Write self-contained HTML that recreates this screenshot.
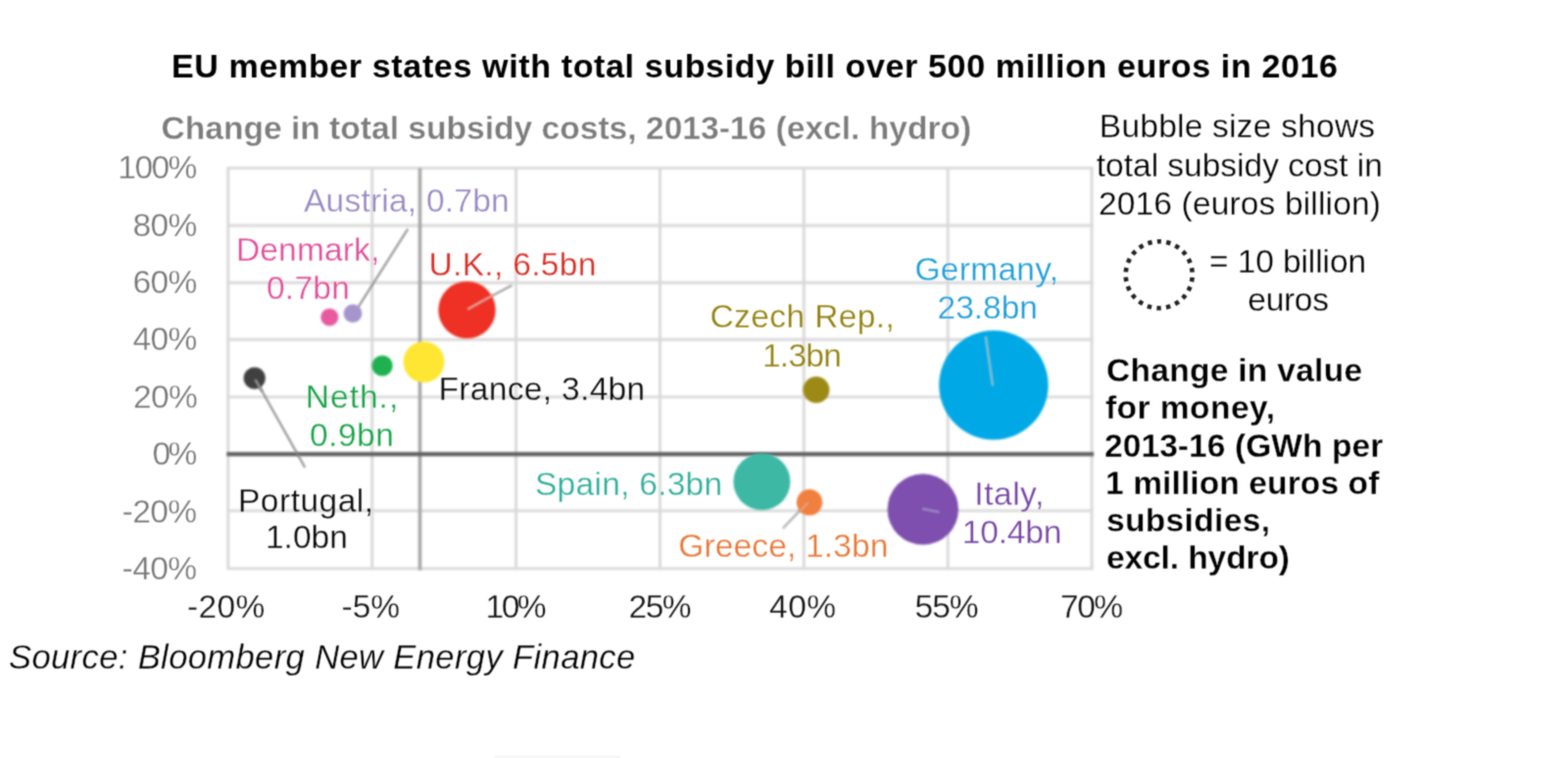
<!DOCTYPE html>
<html lang="en">
<head>
<meta charset="utf-8">
<title>EU member states with total subsidy bill over 500 million euros in 2016</title>
<style>
html,body{margin:0;padding:0;background:#fff;}
body{width:1600px;height:773px;overflow:hidden;font-family:"Liberation Sans",sans-serif;}
svg{display:block;}
</style>
</head>
<body>
<svg width="1600" height="773" viewBox="0 0 1600 773" font-family="'Liberation Sans', sans-serif" font-size="33.5">
<rect width="1600" height="773" fill="#fff"/>
<defs><filter id="soft" x="0" y="0" width="1600" height="773" filterUnits="userSpaceOnUse" color-interpolation-filters="sRGB"><feGaussianBlur stdDeviation="0.8"/></filter></defs>
<defs><filter id="softt" x="0" y="0" width="1600" height="773" filterUnits="userSpaceOnUse" color-interpolation-filters="sRGB"><feConvolveMatrix order="3" kernelMatrix="0.0400 0.1200 0.0400 0.1200 0.3600 0.1200 0.0400 0.1200 0.0400" divisor="1" edgeMode="none" preserveAlpha="false"/></filter></defs>
<g filter="url(#soft)">
<g id="grid" stroke="#d9d9d9" stroke-width="2.9" fill="none">
<line x1="231.4" y1="171.4" x2="1115.5" y2="171.4"/>
<line x1="231.4" y1="230.0" x2="1115.5" y2="230.0"/>
<line x1="231.4" y1="288.3" x2="1115.5" y2="288.3"/>
<line x1="231.4" y1="346.3" x2="1115.5" y2="346.3"/>
<line x1="231.4" y1="404.9" x2="1115.5" y2="404.9"/>
<line x1="231.4" y1="520.9" x2="1115.5" y2="520.9"/>
<line x1="231.4" y1="579.9" x2="1115.5" y2="579.9"/>
<line x1="232.8" y1="171.4" x2="232.8" y2="579.9"/>
<line x1="379.7" y1="171.4" x2="379.7" y2="579.9"/>
<line x1="526.6" y1="171.4" x2="526.6" y2="579.9"/>
<line x1="673.4" y1="171.4" x2="673.4" y2="579.9"/>
<line x1="820.3" y1="171.4" x2="820.3" y2="579.9"/>
<line x1="967.2" y1="171.4" x2="967.2" y2="579.9"/>
<line x1="1114.1" y1="171.4" x2="1114.1" y2="579.9"/>
</g>
<line x1="428.5" y1="171.4" x2="428.5" y2="581.4" stroke="#a6a6a6" stroke-width="3.5"/>
<line x1="231.3" y1="463.1" x2="1116.1" y2="463.1" stroke="#626262" stroke-width="4.4"/>
</g>
<g filter="url(#softt)">
<text x="175.0" y="78.5" fill="#000" textLength="1190.0" lengthAdjust="spacing" font-size="34" font-weight="bold">EU member states with total subsidy bill over 500 million euros in 2016</text>
<text x="164.5" y="142.4" fill="#7c7c7c" textLength="826.7" lengthAdjust="spacing" font-weight="bold" stroke="#fff" stroke-width="0.3">Change in total subsidy costs, 2013-16 (excl. hydro)</text>
<g id="ylab">
<text x="120.3" y="182.3" fill="#767676" textLength="81.1" lengthAdjust="spacing" stroke="#fff" stroke-width="0.3">100%</text>
<text x="135.5" y="240.7" fill="#767676" textLength="65.7" lengthAdjust="spacing" stroke="#fff" stroke-width="0.3">80%</text>
<text x="135.5" y="299.0" fill="#767676" textLength="65.7" lengthAdjust="spacing" stroke="#fff" stroke-width="0.3">60%</text>
<text x="135.5" y="357.4" fill="#767676" textLength="65.7" lengthAdjust="spacing" stroke="#fff" stroke-width="0.3">40%</text>
<text x="136.0" y="415.7" fill="#767676" textLength="65.7" lengthAdjust="spacing" stroke="#fff" stroke-width="0.3">20%</text>
<text x="155.6" y="474.1" fill="#767676" textLength="45.6" lengthAdjust="spacing" stroke="#fff" stroke-width="0.3">0%</text>
<text x="124.6" y="532.5" fill="#767676" textLength="76.4" lengthAdjust="spacing" stroke="#fff" stroke-width="0.3">-20%</text>
<text x="124.6" y="590.8" fill="#767676" textLength="76.4" lengthAdjust="spacing" stroke="#fff" stroke-width="0.3">-40%</text>
</g>
<g id="xlab">
<text x="191.0" y="629.9" fill="#111" textLength="79.2" lengthAdjust="spacing" stroke="#fff" stroke-width="0.3">-20%</text>
<text x="348.5" y="629.9" fill="#111" textLength="59.6" lengthAdjust="spacing" stroke="#fff" stroke-width="0.3">-5%</text>
<text x="495.5" y="629.9" fill="#111" textLength="62.1" lengthAdjust="spacing" stroke="#fff" stroke-width="0.3">10%</text>
<text x="641.5" y="629.9" fill="#111" textLength="64.1" lengthAdjust="spacing" stroke="#fff" stroke-width="0.3">25%</text>
<text x="785.0" y="629.9" fill="#111" textLength="68.1" lengthAdjust="spacing" stroke="#fff" stroke-width="0.3">40%</text>
<text x="933.5" y="629.9" fill="#111" textLength="65.1" lengthAdjust="spacing" stroke="#fff" stroke-width="0.3">55%</text>
<text x="1082.0" y="629.9" fill="#111" textLength="64.1" lengthAdjust="spacing" stroke="#fff" stroke-width="0.3">70%</text>
</g>
</g>
<g id="leaders" stroke-width="1.9" fill="none" filter="url(#soft)">
<line x1="416.2" y1="233.5" x2="365" y2="314" stroke="#858585"/>
<line x1="311.2" y1="476.8" x2="260" y2="385.8" stroke="#858585"/>
<line x1="798.8" y1="538.8" x2="824" y2="512.5" stroke="#a2a2a2"/>
<line x1="522.5" y1="290.8" x2="476.5" y2="315.5" stroke="#959595"/>
</g>
<g id="bubbles" filter="url(#soft)">
<circle cx="336.3" cy="323.4" r="9" fill="#e85aa0"/>
<circle cx="360" cy="319.7" r="9.4" fill="#a694cc"/>
<circle cx="476.5" cy="316.1" r="29.2" fill="#ee3124"/>
<circle cx="390.1" cy="373" r="10.6" fill="#1fb14f"/>
<circle cx="432.5" cy="369.1" r="20.9" fill="#ffe633"/>
<circle cx="259.7" cy="385.6" r="11.1" fill="#404040"/>
<circle cx="832.9" cy="397.5" r="13.5" fill="#9c8a14"/>
<circle cx="1013.9" cy="392.7" r="55.7" fill="#00a9e5"/>
<circle cx="777.4" cy="491.2" r="29" fill="#3cb8a4"/>
<circle cx="826" cy="512.3" r="13.2" fill="#f08040"/>
<circle cx="941.8" cy="519.4" r="36.2" fill="#7e4fae"/>
</g>
<g id="leaders2" stroke-width="2.4" fill="none" filter="url(#soft)">
<line x1="503" y1="301" x2="477" y2="315.5" stroke="#e6aaa2"/>
<line x1="1005.8" y1="343" x2="1013" y2="393.5" stroke="#8fc0d6"/>
<line x1="941" y1="518.8" x2="958.5" y2="522.3" stroke="#9f88c4"/>
<line x1="260.5" y1="387" x2="267.5" y2="399.5" stroke="#9a9a9a"/>
<line x1="824.5" y1="512.5" x2="816" y2="521.5" stroke="#e2a07c"/>
</g>
<g filter="url(#softt)">
<g id="dlabels">
<text x="310.0" y="216.4" fill="#9888c4" textLength="209.7" lengthAdjust="spacing" stroke="#fff" stroke-width="0.3">Austria, 0.7bn</text>
<text x="241.0" y="265.9" fill="#e34d98" textLength="146.2" lengthAdjust="spacing" stroke="#fff" stroke-width="0.3">Denmark,</text>
<text x="272.0" y="304.9" fill="#e34d98" textLength="84.8" lengthAdjust="spacing" stroke="#fff" stroke-width="0.3">0.7bn</text>
<text x="437.5" y="280.7" fill="#d82b22" textLength="170.8" lengthAdjust="spacing" stroke="#fff" stroke-width="0.3">U.K., 6.5bn</text>
<text x="311.8" y="415.9" fill="#17a345" textLength="94.4" lengthAdjust="spacing" stroke="#fff" stroke-width="0.3">Neth.,</text>
<text x="316.0" y="455.2" fill="#17a345" textLength="85.8" lengthAdjust="spacing" stroke="#fff" stroke-width="0.3">0.9bn</text>
<text x="447.5" y="408.4" fill="#0a0a0a" textLength="210.7" lengthAdjust="spacing" stroke="#fff" stroke-width="0.3">France, 3.4bn</text>
<text x="243.0" y="521.6" fill="#0a0a0a" textLength="138.1" lengthAdjust="spacing" stroke="#fff" stroke-width="0.3">Portugal,</text>
<text x="271.0" y="559.2" fill="#0a0a0a" textLength="83.8" lengthAdjust="spacing" stroke="#fff" stroke-width="0.3">1.0bn</text>
<text x="724.5" y="334.2" fill="#92800d" textLength="188.3" lengthAdjust="spacing" stroke="#fff" stroke-width="0.3">Czech Rep.,</text>
<text x="778.0" y="373.9" fill="#92800d" textLength="80.8" lengthAdjust="spacing" stroke="#fff" stroke-width="0.3">1.3bn</text>
<text x="933.5" y="285.7" fill="#1c9dd9" textLength="146.6" lengthAdjust="spacing" stroke="#fff" stroke-width="0.3">Germany,</text>
<text x="956.5" y="325.4" fill="#1c9dd9" textLength="102.5" lengthAdjust="spacing" stroke="#fff" stroke-width="0.3">23.8bn</text>
<text x="546.0" y="504.9" fill="#30ae9a" textLength="191.1" lengthAdjust="spacing" stroke="#fff" stroke-width="0.3">Spain, 6.3bn</text>
<text x="692.3" y="568.4" fill="#eb7534" textLength="214.1" lengthAdjust="spacing" stroke="#fff" stroke-width="0.3">Greece, 1.3bn</text>
<text x="994.3" y="514.9" fill="#7445a5" textLength="70.9" lengthAdjust="spacing" stroke="#fff" stroke-width="0.3">Italy,</text>
<text x="981.8" y="554.2" fill="#7445a5" textLength="101.5" lengthAdjust="spacing" stroke="#fff" stroke-width="0.3">10.4bn</text>
</g>
<g id="legend">
<text x="1121.8" y="140.4" fill="#000" textLength="281.3" lengthAdjust="spacing" stroke="#fff" stroke-width="0.3">Bubble size shows</text>
<text x="1118.8" y="179.9" fill="#000" textLength="292.1" lengthAdjust="spacing" stroke="#fff" stroke-width="0.3">total subsidy cost in</text>
<text x="1121.0" y="218.7" fill="#000" textLength="287.9" lengthAdjust="spacing" stroke="#fff" stroke-width="0.3">2016 (euros billion)</text>
<circle cx="1182.7" cy="280.2" r="34" fill="none" stroke="#222" stroke-width="4.6" stroke-dasharray="4.40 5.31" stroke-dashoffset="2.20" transform="rotate(-90 1182.7 280.2)"/>
<text x="1234.0" y="278.4" fill="#000" textLength="160.1" lengthAdjust="spacing" stroke="#fff" stroke-width="0.3">= 10 billion</text>
<text x="1273.3" y="317.4" fill="#000" textLength="82.6" lengthAdjust="spacing" stroke="#fff" stroke-width="0.3">euros</text>
<text x="1129.0" y="388.6" fill="#000" textLength="261.1" lengthAdjust="spacing" font-weight="bold" stroke="#fff" stroke-width="0.3">Change in value</text>
<text x="1128.0" y="427.3" fill="#000" textLength="173.0" lengthAdjust="spacing" font-weight="bold" stroke="#fff" stroke-width="0.3">for money,</text>
<text x="1127.0" y="466.0" fill="#000" textLength="284.2" lengthAdjust="spacing" font-weight="bold" stroke="#fff" stroke-width="0.3">2013-16 (GWh per</text>
<text x="1128.0" y="504.2" fill="#000" textLength="279.3" lengthAdjust="spacing" font-weight="bold" stroke="#fff" stroke-width="0.3">1 million euros of</text>
<text x="1129.0" y="542.3" fill="#000" textLength="167.0" lengthAdjust="spacing" font-weight="bold" stroke="#fff" stroke-width="0.3">subsidies,</text>
<text x="1129.0" y="580.0" fill="#000" textLength="187.0" lengthAdjust="spacing" font-weight="bold" stroke="#fff" stroke-width="0.3">excl. hydro)</text>
</g>
<text x="9.0" y="681.6" fill="#000" textLength="639.2" lengthAdjust="spacing" font-size="34.5" font-style="italic" stroke="#fff" stroke-width="0.3">Source: Bloomberg New Energy Finance</text>
<rect x="504" y="770.6" width="129" height="2.4" fill="#f5f5f5"/>
</g>
</svg>
</body>
</html>
